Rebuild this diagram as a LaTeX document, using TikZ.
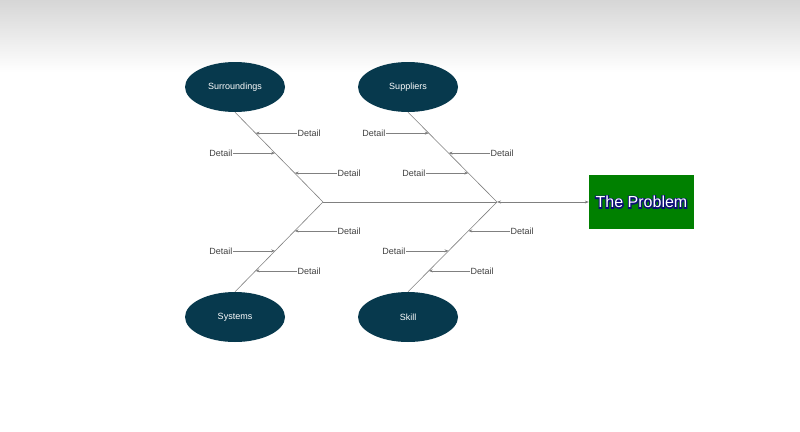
\documentclass[tikz,border=0pt]{standalone}
\usepackage{fontspec}
\setmainfont{Liberation Sans}
\newfontfamily\halofont[FakeBold=14]{Liberation Sans}
\usetikzlibrary{arrows.meta,calc,shapes.geometric}
\definecolor{ellfill}{RGB}{7,57,77}
\definecolor{bonecol}{RGB}{128,128,128}
\definecolor{txtcol}{RGB}{64,64,64}
\definecolor{probgreen}{RGB}{0,128,0}
\definecolor{outl}{RGB}{12,12,120}
\definecolor{topgrey}{RGB}{214,214,214}
\begin{document}
\begin{tikzpicture}[x=1pt,y=-1pt,
  cause/.style={ellipse,fill=ellfill,minimum width=100pt,minimum height=50pt,inner sep=0,text=white,font=\fontsize{9}{10}\selectfont},
  bone/.style={draw=bonecol,line width=0.6pt},
  arr/.style={draw=bonecol,line width=0.6pt,-{Stealth[length=4pt,width=3pt]}},
  detail/.style={inner sep=0.5pt,text=txtcol,font=\fontsize{9}{10}\selectfont}]
\useasboundingbox (0,0) rectangle (800,431);
\shade[top color=topgrey,bottom color=white] (0,0) rectangle (800,72);
% causes
\node[cause] (sur) at (235,87) {Surroundings};
\node[cause] (sup) at (408,87) {Suppliers};
\node[cause] (sys) at (235,317) {Systems};
\node[cause] (ski) at (408,317) {Skill};
% junctions
\coordinate (j1) at (323,202);
\coordinate (j2) at (497,202);
% problem box
\node[fill=probgreen,minimum width=105pt,minimum height=54pt,inner sep=0] (prob) at (641.5,202) {};
\node[inner sep=0,text=outl,font=\halofont\fontsize{16}{18}\selectfont] (probhalo) at (prob.center) {The Problem};
\node[inner sep=0,text=white,font=\fontsize{16}{18}\selectfont] (probtext) at (prob.center) {The Problem};
% bones
\draw[bone] (sur.south) -- (j1);
\draw[bone] (sys.north) -- (j1);
\draw[bone] (sup.south) -- (j2);
\draw[bone] (ski.north) -- (j2);
\draw[bone] (j1) -- (j2);
\draw[draw=bonecol,line width=0.6pt,{Stealth[length=4pt,width=3pt]}-{Stealth[length=4pt,width=3pt]}] (j2) -- (prob.west);
% points on bones
\foreach \n/\t in {1/0.2333,2/0.4556,3/0.6778}{
  \coordinate (a\n) at ($(sur.south)!\t!(j1)$);
  \coordinate (b\n) at ($(sup.south)!\t!(j2)$);
  \coordinate (c\n) at ($(sys.north)!\t!(j1)$);
  \coordinate (d\n) at ($(ski.north)!\t!(j2)$);
}
% Surroundings details
\node[detail,anchor=west] (da1) at (297,133) {Detail};
\node[detail,anchor=east] (da2) at (233,153) {Detail};
\node[detail,anchor=west] (da3) at (337,173) {Detail};
\draw[arr] (da1.west |- a1) -- (a1);
\draw[arr] (da2.east |- a2) -- (a2);
\draw[arr] (da3.west |- a3) -- (a3);
% Suppliers details
\node[detail,anchor=east] (db1) at (386,133) {Detail};
\node[detail,anchor=west] (db2) at (490,153) {Detail};
\node[detail,anchor=east] (db3) at (426,173) {Detail};
\draw[arr] (db1.east |- b1) -- (b1);
\draw[arr] (db2.west |- b2) -- (b2);
\draw[arr] (db3.east |- b3) -- (b3);
% Systems details
\node[detail,anchor=west] (dc1) at (297,271) {Detail};
\node[detail,anchor=east] (dc2) at (233,251) {Detail};
\node[detail,anchor=west] (dc3) at (337,231) {Detail};
\draw[arr] (dc1.west |- c1) -- (c1);
\draw[arr] (dc2.east |- c2) -- (c2);
\draw[arr] (dc3.west |- c3) -- (c3);
% Skill details
\node[detail,anchor=west] (dd1) at (470,271) {Detail};
\node[detail,anchor=east] (dd2) at (406,251) {Detail};
\node[detail,anchor=west] (dd3) at (510,231) {Detail};
\draw[arr] (dd1.west |- d1) -- (d1);
\draw[arr] (dd2.east |- d2) -- (d2);
\draw[arr] (dd3.west |- d3) -- (d3);
\end{tikzpicture}
\end{document}
